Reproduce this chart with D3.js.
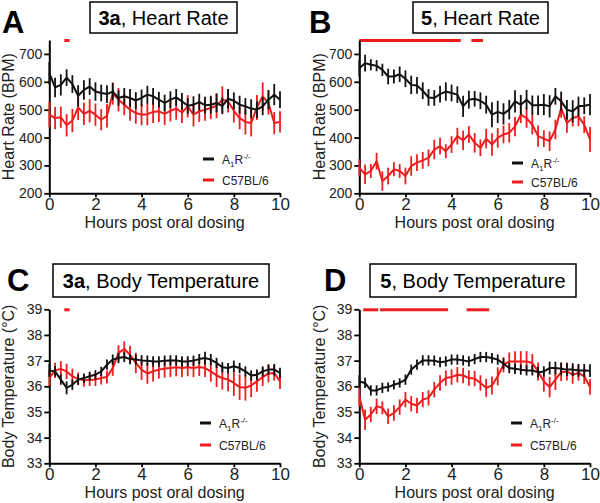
<!DOCTYPE html>
<html><head><meta charset="utf-8">
<script src="https://cdnjs.cloudflare.com/ajax/libs/d3/7.8.5/d3.min.js"></script>
<style>
html,body{margin:0;padding:0;background:#fff;}
svg{display:block;font-family:"Liberation Sans",Arial,sans-serif;}
</style></head>
<body>
<svg id="chart" width="600" height="503"></svg>
<script>
// ---- data ----
const hours = [0,0.25,0.5,0.75,1,1.25,1.5,1.75,2,2.25,2.5,2.75,3,3.25,3.5,3.75,4,4.25,4.5,4.75,5,5.25,5.5,5.75,6,6.25,6.5,6.75,7,7.25,7.5,7.75,8,8.25,8.5,8.75,9,9.25,9.5,9.75,10];
const xTicks = [0,2,4,6,8,10];
const hrTicks = [200,300,400,500,600,700];
const tempTicks = [33,34,35,36,37,38,39];
const seriesNames = ["A1R-/-","C57BL/6"];

// Panel A: 3a, heart rate
const hrA_ko = [631,580,589,615,592,550,571,583,565,560,556,565,542,548,542,533,542,554,548,536,524,536,544,530,514,518,527,516,518,524,514,539,532,518,512,504,500,512,536,554,536];
const hrA_koErr = [40,35,38,30,32,38,35,30,33,30,32,30,28,30,32,30,30,32,30,28,30,30,30,30,28,30,30,30,32,33,30,35,30,32,30,33,30,32,35,38,30];
const hrA_wt = [482,470,473,444,461,508,485,496,482,464,478,558,536,518,500,488,482,484,492,494,485,496,504,490,512,482,494,500,506,514,536,530,496,470,456,452,508,548,524,452,456];
const hrA_wtErr = [45,40,38,40,42,45,40,42,40,38,42,40,42,38,40,38,38,40,40,38,40,38,40,38,40,42,38,40,40,45,48,40,42,40,45,48,45,50,42,40,38];
const sigA = [[0.65,0.88]];

// Panel B: 5, heart rate
const hrB_ko = [649,667,661,658,643,619,619,627,611,589,587,568,544,542,556,565,560,554,512,536,539,532,518,482,492,485,500,530,518,536,516,516,518,512,548,530,500,494,512,514,518];
const hrB_koErr = [30,30,20,20,22,28,25,28,30,33,30,30,30,28,30,33,30,30,38,32,28,30,32,45,40,38,35,40,35,35,35,35,38,40,30,35,35,40,35,30,38];
const hrB_wt = [292,268,280,315,244,262,286,280,262,298,310,318,327,357,369,351,375,405,390,411,381,363,396,375,399,411,417,440,482,470,446,405,396,387,429,506,452,470,476,446,393];
const hrB_wtErr = [30,35,25,30,35,30,25,25,30,35,30,30,30,35,30,25,30,30,35,30,35,30,35,40,35,32,35,35,30,35,35,38,30,35,35,35,35,30,35,30,45];
const sigB = [[0,4.4],[4.86,5.36]];

// Panel C: 3a, body temperature
const tC_ko = [36.62,36.58,36.26,35.94,36.06,36.26,36.32,36.39,36.45,36.58,36.84,37.04,37.1,37.14,37.06,37.04,37.01,37.0,36.97,36.97,37.0,37.01,37.01,36.97,36.97,37.0,37.06,37.1,37.04,36.91,36.74,36.71,36.78,36.71,36.58,36.42,36.45,36.58,36.65,36.65,36.52];
const tC_koErr = [0.25,0.2,0.2,0.25,0.2,0.2,0.18,0.18,0.18,0.18,0.2,0.2,0.2,0.2,0.2,0.2,0.2,0.2,0.2,0.2,0.2,0.2,0.2,0.2,0.2,0.2,0.2,0.25,0.22,0.2,0.2,0.2,0.22,0.2,0.2,0.2,0.2,0.2,0.2,0.22,0.2];
const tC_wt = [36.32,36.62,36.68,36.58,36.39,36.29,36.23,36.26,36.26,36.32,36.36,36.71,37.3,37.45,37.23,36.91,36.65,36.5,36.58,36.65,36.69,36.71,36.74,36.71,36.74,36.71,36.75,36.71,36.58,36.42,36.32,36.26,36.13,35.97,35.94,36.03,36.19,36.36,36.5,36.52,36.19];
const tC_wtErr = [0.3,0.3,0.3,0.3,0.3,0.25,0.25,0.25,0.25,0.25,0.25,0.3,0.3,0.3,0.35,0.4,0.4,0.4,0.4,0.35,0.35,0.35,0.35,0.35,0.35,0.35,0.35,0.35,0.4,0.45,0.45,0.45,0.5,0.5,0.5,0.45,0.4,0.35,0.35,0.3,0.3];
const sigC = [[0.65,0.88]];

// Panel D: 5, body temperature
const tD_ko = [36.19,36.13,35.84,35.84,35.94,35.97,36.06,36.13,36.26,36.65,36.84,37.01,37.01,37.0,36.94,36.97,37.04,37.04,37.01,36.97,37.06,37.14,37.14,37.1,37.04,36.88,36.71,36.68,36.65,36.62,36.62,36.55,36.58,36.71,36.71,36.68,36.65,36.65,36.62,36.62,36.61];
const tD_koErr = [0.25,0.2,0.2,0.2,0.2,0.18,0.18,0.18,0.2,0.2,0.2,0.2,0.2,0.2,0.2,0.2,0.2,0.2,0.2,0.2,0.2,0.2,0.2,0.2,0.2,0.2,0.2,0.2,0.2,0.2,0.2,0.2,0.2,0.25,0.25,0.25,0.25,0.25,0.25,0.25,0.25];
const tD_wt = [35.61,34.7,34.9,35.22,35.16,34.83,34.96,35.19,35.48,35.32,35.25,35.48,35.55,35.87,36.13,36.32,36.36,36.45,36.42,36.32,36.3,36.13,35.94,36.03,36.39,36.84,36.97,36.97,36.97,36.97,36.91,36.58,36.19,35.97,36.26,36.55,36.58,36.45,36.52,36.39,35.97];
const tD_wtErr = [0.4,0.4,0.3,0.3,0.25,0.3,0.3,0.3,0.3,0.3,0.3,0.3,0.3,0.3,0.3,0.3,0.3,0.3,0.3,0.3,0.3,0.3,0.35,0.35,0.35,0.3,0.35,0.4,0.4,0.4,0.35,0.35,0.4,0.4,0.4,0.35,0.35,0.35,0.3,0.3,0.3];
const sigD = [[0.17,0.82],[0.9,3.85],[4.65,5.63]];

// ---- layout ----
const RED = "#ee1c1c", BLACK = "#111";
const panels = [
  {letter:"A", lx:2, ly:33, bold:"3a", title:", Heart Rate", box:[90,2,147,31], ylabel:"Heart Rate (BPM)",
   ko:hrA_ko, koErr:hrA_koErr, wt:hrA_wt, wtErr:hrA_wtErr, sig:sigA, yDom:[200,750], yTicks:hrTicks,
   x0:49.3, x1:280, yT:40, yB:193.3, leg:[203,159,180], ylx:14},
  {letter:"B", lx:309, ly:33, bold:"5", title:", Heart Rate", box:[413,2,135,31], ylabel:"Heart Rate (BPM)",
   ko:hrB_ko, koErr:hrB_koErr, wt:hrB_wt, wtErr:hrB_wtErr, sig:sigB, yDom:[200,750], yTicks:hrTicks,
   x0:359.3, x1:590, yT:40, yB:193.3, leg:[512,163,182], ylx:325},
  {letter:"C", lx:7, ly:291, bold:"3a", title:", Body Temperature", box:[53,264,216,33], ylabel:"Body Temperature (°C)",
   ko:tC_ko, koErr:tC_koErr, wt:tC_wt, wtErr:tC_wtErr, sig:sigC, yDom:[33,39], yTicks:tempTicks,
   x0:49.3, x1:280, yT:309.3, yB:463.3, leg:[200,423,445], ylx:14},
  {letter:"D", lx:324, ly:291, bold:"5", title:", Body Temperature", box:[370,264,206,33], ylabel:"Body Temperature (°C)",
   ko:tD_ko, koErr:tD_koErr, wt:tD_wt, wtErr:tD_wtErr, sig:sigD, yDom:[33,39], yTicks:tempTicks,
   x0:359.3, x1:590, yT:309.3, yB:463.3, leg:[511,423,445], ylx:325}
];

const svg = d3.select("#chart");
svg.append("rect").attr("width",600).attr("height",503).attr("fill","#fff");

panels.forEach(p => {
  const g = svg.append("g");
  const x = d3.scaleLinear().domain([0,10]).range([p.x0,p.x1]);
  const y = d3.scaleLinear().domain(p.yDom).range([p.yB,p.yT]);

  // panel letter
  g.append("text").attr("x",p.lx).attr("y",p.ly).attr("font-size",31).attr("font-weight","bold")
    .attr("fill","#000").text(p.letter);

  // title box
  g.append("rect").attr("x",p.box[0]).attr("y",p.box[1]).attr("width",p.box[2]).attr("height",p.box[3])
    .attr("fill","#fff").attr("stroke","#000").attr("stroke-width",1.5);
  const tt = g.append("text").attr("x",p.box[0]+p.box[2]/2).attr("y",p.box[1]+p.box[3]/2+7)
    .attr("text-anchor","middle").attr("font-size",20).attr("fill","#000");
  tt.append("tspan").attr("font-weight","bold").text(p.bold);
  tt.append("tspan").text(p.title);

  // significance bars
  g.selectAll(".sig").data(p.sig).enter().append("line")
    .attr("x1",d=>x(d[0])).attr("x2",d=>x(d[1]))
    .attr("y1",y(p.yDom[1])+0.5).attr("y2",y(p.yDom[1])+0.5)
    .attr("stroke",RED).attr("stroke-width",3);

  // axes
  const yAxis = d3.axisLeft(y).tickValues(p.yTicks).tickFormat(d3.format("d")).tickSize(5).tickSizeOuter(0).tickPadding(2);
  const ya = g.append("g").attr("transform",`translate(${p.x0},0)`).call(yAxis);
  ya.select(".domain").attr("stroke","#000").attr("stroke-width",2);
  ya.selectAll(".tick line").attr("stroke","#000").attr("stroke-width",1.8);
  ya.selectAll(".tick text").attr("font-size",14).attr("fill","#222").attr("font-family","Liberation Sans, Arial, sans-serif");

  const xAxis = d3.axisBottom(x).tickValues(xTicks).tickFormat(d3.format("d")).tickSize(4).tickSizeOuter(0).tickPadding(1);
  const xa = g.append("g").attr("transform",`translate(0,${p.yB})`).call(xAxis);
  xa.select(".domain").attr("stroke","#000").attr("stroke-width",2);
  xa.selectAll(".tick line").attr("stroke","#000").attr("stroke-width",1.8);
  xa.selectAll(".tick text").attr("font-size",17).attr("fill","#222").attr("font-family","Liberation Sans, Arial, sans-serif");

  // axis labels
  g.append("text").attr("x",(p.x0+p.x1)/2).attr("y",p.yB+35).attr("text-anchor","middle")
    .attr("font-size",16).attr("fill","#222").text("Hours post oral dosing");
  g.append("text").attr("transform",`translate(${p.ylx},${(p.yT+p.yB)/2}) rotate(-90)`)
    .attr("text-anchor","middle").attr("font-size",16).attr("fill","#222").text(p.ylabel);

  // series
  const line = d3.line().x((d,i)=>x(hours[i])).y(d=>y(d));
  const drawSeries = (vals, errs, col) => {
    const sg = g.append("g");
    sg.selectAll("line").data(vals).enter().append("line")
      .attr("x1",(d,i)=>x(hours[i])).attr("x2",(d,i)=>x(hours[i]))
      .attr("y1",(d,i)=>y(d-errs[i])).attr("y2",(d,i)=>y(d+errs[i]))
      .attr("stroke",col).attr("stroke-width",1.8);
    sg.append("path").datum(vals).attr("d",line).attr("fill","none")
      .attr("stroke",col).attr("stroke-width",2).attr("stroke-linejoin","round");
  };
  drawSeries(p.wt, p.wtErr, RED);
  drawSeries(p.ko, p.koErr, BLACK);

  // legend
  const [lx, ly1, ly2] = p.leg;
  g.append("line").attr("x1",lx).attr("x2",lx+11).attr("y1",ly1).attr("y2",ly1).attr("stroke",BLACK).attr("stroke-width",3);
  g.append("line").attr("x1",lx).attr("x2",lx+11).attr("y1",ly2).attr("y2",ly2).attr("stroke",RED).attr("stroke-width",3);
  const t1 = g.append("text").attr("x",lx+19).attr("y",ly1+4.5).attr("font-size",12).attr("fill","#222");
  t1.append("tspan").text("A");
  t1.append("tspan").attr("font-size",8).attr("dy",3).text("1");
  t1.append("tspan").attr("dy",-3).text("R");
  t1.append("tspan").attr("font-size",8).attr("dy",-5).text("-/-");
  g.append("text").attr("x",lx+19).attr("y",ly2+4.5).attr("font-size",12).attr("fill","#222").text(seriesNames[1]);
});
</script>
</body></html>
